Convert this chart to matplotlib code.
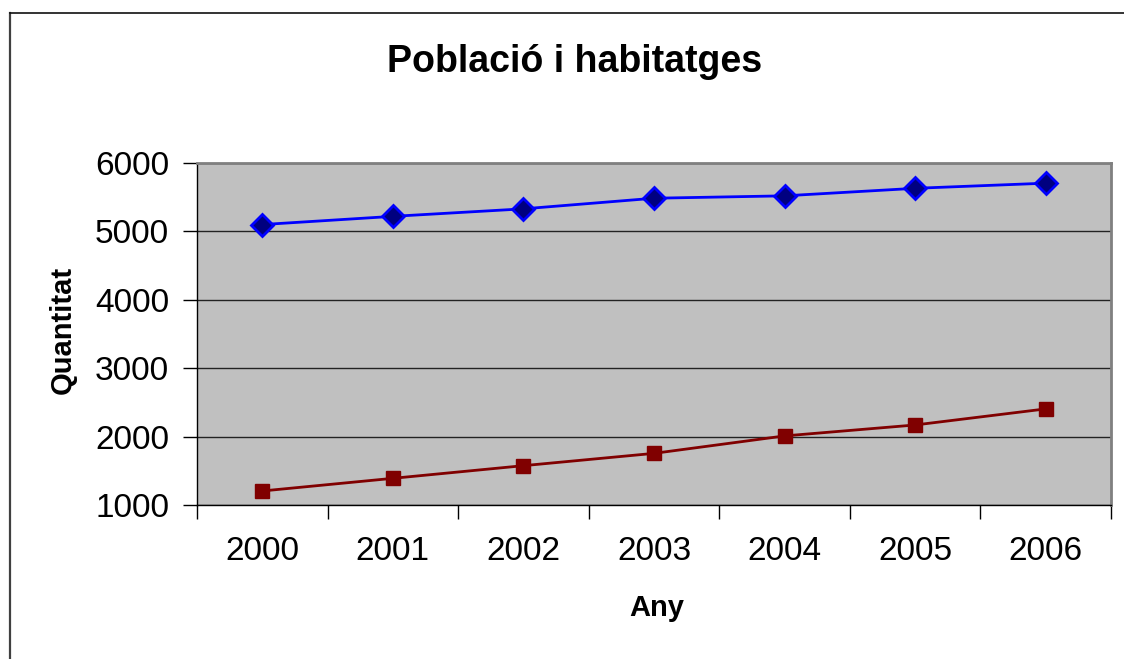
import matplotlib
matplotlib.use("Agg")
import matplotlib.pyplot as plt
from matplotlib.lines import Line2D

plt.rcParams['font.family'] = ['Liberation Sans', 'DejaVu Sans']

anys = ['2000', '2001', '2002', '2003', '2004', '2005', '2006']
poblacio = [5100, 5220, 5330, 5485, 5520, 5630, 5705]
habitatges = [1205, 1390, 1575, 1755, 2010, 2170, 2405]

W, H = 1124, 659
fig = plt.figure(figsize=(W / 100, H / 100), dpi=100)
ax = fig.add_axes([197 / W, 1 - 505 / H, (1111 - 197) / W, (505 - 163) / H])
ax.set_facecolor('#C0C0C0')

x = list(range(len(anys)))
ax.plot(x, poblacio, color='#0000FF', lw=2, marker='D', ms=11.5,
        mfc='#000080', mec='#0000FF', mew=2, zorder=3)
ax.plot(x, habitatges, color='#800000', lw=2, marker='s', ms=10.5,
        mfc='#800000', mec='#800000', zorder=3)

ax.set_ylim(1000, 6000)
ax.set_yticks(range(1000, 7000, 1000))
ax.yaxis.grid(True, color='#222222', lw=1)
ax.set_axisbelow(True)
ax.tick_params(axis='y', length=10, width=1, pad=10, labelsize=24)

ax.set_xlim(-0.5, len(anys) - 0.5)
ax.set_xticks([i - 0.5 for i in range(len(anys) + 1)])
ax.set_xticklabels([])
ax.set_xticks(x, minor=True)
ax.set_xticklabels(anys, minor=True)
ax.tick_params(axis='x', which='major', length=10, width=1)
ax.tick_params(axis='x', which='minor', length=0, pad=22, labelsize=24)

for side in ('top', 'right'):
    ax.spines[side].set_color('#808080')
    ax.spines[side].set_linewidth(2)
for side in ('left', 'bottom'):
    ax.spines[side].set_color('black')
    ax.spines[side].set_linewidth(1)

fig.text(575 / W, 1 - 62 / H, 'Població i habitatges', ha='center', va='center',
         fontsize=27, fontweight='bold')
fig.text(63 / W, 1 - 330 / H, 'Quantitat', ha='center', va='center',
         rotation=90, fontsize=21, fontweight='bold')
fig.text(657 / W, 1 - 608 / H, 'Any', ha='center', va='center',
         fontsize=21, fontweight='bold')

# chart frame (cut off at right and bottom)
fig.add_artist(Line2D([10 / W, 10 / W], [0, 1 - 12.5 / H], color='#404040', lw=1.6))
fig.add_artist(Line2D([10 / W, 1], [1 - 12.5 / H, 1 - 12.5 / H], color='#111111', lw=1.2))

fig.savefig('out.png', dpi=100)
